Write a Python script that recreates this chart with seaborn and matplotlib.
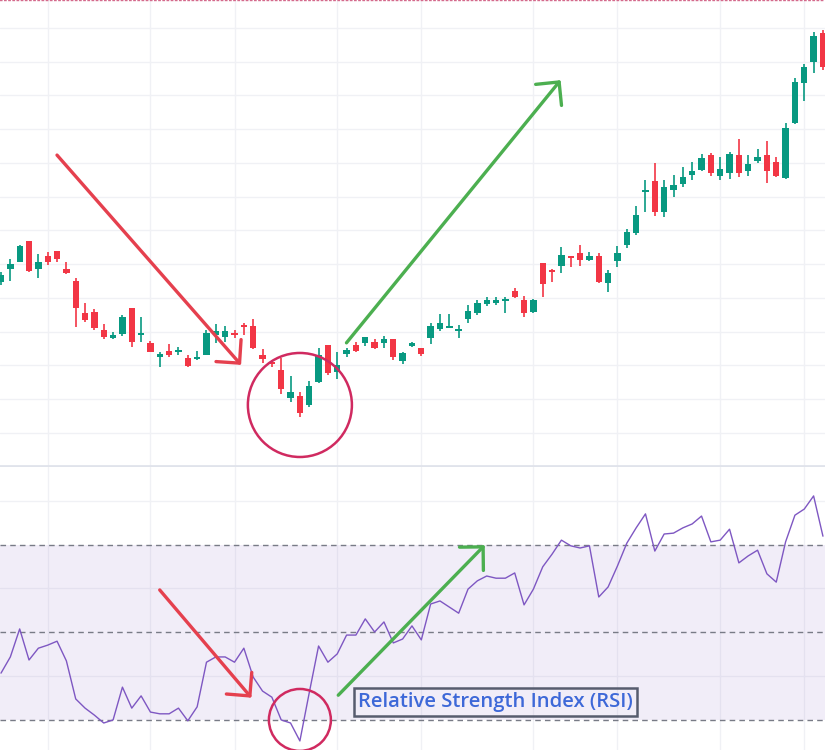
import numpy as np
import pandas as pd
import matplotlib
matplotlib.use('Agg')
import matplotlib.pyplot as plt
import seaborn as sns

sns.set_style('white')
plt.rcParams['font.family'] = ['Open Sans', 'DejaVu Sans']

# candle data (price units), one entry per session
opens = [188, 201, 208, 229, 201, 214, 219, 201, 189, 157,
         158, 140, 132, 136, 162, 135, 127, 113, 119, 118,
         112, 111, 115, 135, 133, 137, 145, 144, 115, 107,
         100, 72, 74, 65, 88, 125, 98, 116, 125, 127,
         128, 127, 131, 109, 124, 122, 132, 141, 142, 139,
         151, 157, 166, 167, 169, 179, 170, 158, 207, 200,
         204, 214, 217, 210, 214, 187, 209, 225, 237, 278,
         289, 258, 280, 286, 295, 300, 315, 294, 297, 315,
         299, 309, 315, 308, 292, 347, 387, 408, 437]
closes = [195, 206, 224, 199, 208, 208, 211, 197, 162, 150,
          142, 133, 135, 153, 128, 137, 118, 116, 115, 119,
          104, 113, 137, 139, 139, 135, 143, 122, 111, 106,
          81, 78, 57, 84, 115, 97, 105, 120, 119, 133,
          122, 131, 113, 117, 127, 116, 144, 147, 144, 140,
          159, 167, 170, 170, 170, 173, 157, 170, 186, 198,
          215, 212, 210, 214, 188, 197, 217, 238, 255, 280,
          258, 283, 285, 293, 299, 312, 297, 301, 316, 297,
          306, 313, 299, 294, 342, 388, 403, 434, 403]
highs = [198, 211, 225, 229, 216, 218, 219, 208, 192, 167,
         161, 146, 138, 155, 162, 153, 129, 118, 126, 123,
         115, 119, 140, 146, 144, 140, 147, 151, 121, 110,
         112, 94, 78, 89, 122, 125, 118, 122, 128, 133,
         131, 134, 131, 118, 128, 122, 147, 156, 156, 145,
         165, 170, 173, 173, 173, 182, 174, 171, 207, 201,
         223, 214, 225, 218, 217, 200, 224, 241, 264, 290,
         307, 290, 295, 303, 308, 316, 317, 313, 318, 331,
         315, 321, 329, 313, 347, 392, 406, 438, 440]
lows = [185, 189, 208, 198, 192, 205, 208, 196, 143, 148,
        140, 131, 131, 134, 123, 128, 118, 103, 113, 115,
        103, 110, 115, 127, 128, 132, 135, 121, 107, 103,
        76, 68, 53, 63, 87, 95, 91, 113, 118, 124,
        121, 122, 110, 106, 123, 114, 126, 139, 142, 132,
        147, 155, 164, 165, 157, 172, 153, 157, 173, 188,
        197, 203, 204, 209, 187, 178, 203, 222, 235, 258,
        254, 253, 273, 283, 290, 299, 294, 290, 291, 293,
        294, 307, 287, 293, 291, 346, 369, 397, 400]

rsi = [40.6, 44.3, 50.7, 43.6, 46.3, 47.0, 47.9, 43.4, 34.7, 32.6,
       31.0, 29.2, 29.9, 37.4, 32.6, 35.4, 31.7, 31.3, 31.3, 32.6,
       29.7, 32.9, 43.1, 44.3, 44.3, 43.1, 46.3, 39.7, 36.5, 35.1,
       29.9, 29.2, 25.1, 36.1, 46.8, 43.1, 45.0, 49.3, 49.3, 53.0,
       50.0, 52.3, 47.5, 48.4, 51.4, 48.2, 56.4, 57.1, 55.7, 54.3,
       59.8, 61.7, 62.8, 62.3, 62.3, 63.5, 56.2, 59.8, 64.9, 67.8,
       71.0, 69.7, 69.2, 69.7, 58.0, 60.3, 65.1, 70.3, 73.8, 77.0,
       68.5, 72.4, 72.6, 73.8, 74.7, 76.5, 70.6, 71.0, 73.5, 65.8,
       67.4, 68.7, 63.3, 61.4, 70.6, 76.7, 78.1, 81.1, 71.9]

# sessions where the vertical grid lines fall
grid_sessions = [5, 16, 25, 36, 45, 57, 66, 77, 86]

df = pd.DataFrame({'open': opens, 'high': highs, 'low': lows, 'close': closes, 'rsi': rsi})
df['idx'] = np.arange(len(df))

UP = '#089981'
DOWN = '#F23645'
GRID = '#F0F1F5'

fig = plt.figure(figsize=(8.25, 7.5), dpi=100)
ax = fig.add_axes([0, 0.3787, 1, 0.6213])
ax2 = fig.add_axes([0, 0, 1, 0.3773])

# ---- price panel
cols = np.where(df['close'] >= df['open'], UP, DOWN)
ax.vlines(df['idx'], df['low'], df['high'], colors=cols, lw=1.2, zorder=3)
body_lo = np.minimum(df['open'], df['close'])
body_h = np.maximum(np.abs(df['close'] - df['open']), 1.6)
ax.bar(df['idx'], body_h, bottom=body_lo, width=0.68, color=cols, lw=0, zorder=4)

ax.set_xlim(-0.107, 88.22)
ax.set_ylim(4, 470)
ax.set_xticks(grid_sessions)
ax.set_yticks(np.arange(37, 470, 33.75))
ax.grid(color=GRID, lw=1)
ax.tick_params(length=0, labelbottom=False, labelleft=False)
for s in ['left', 'right']:
    ax.spines[s].set_visible(False)
ax.spines['top'].set_visible(True)
ax.spines['top'].set_color('#d46a8c')
ax.spines['top'].set_linestyle((0, (1, 2)))
ax.spines['top'].set_linewidth(1)
ax.spines['bottom'].set_color('#E0E3EB')
ax.spines['bottom'].set_linewidth(2)

head = '->,head_length=0.6,head_width=0.6'
ax.annotate('', xy=(25.9, 103), xytext=(5.8, 317),
            arrowprops=dict(arrowstyle=head, color='#E5404E', lw=2.4, mutation_scale=20), zorder=6)
ax.annotate('', xy=(60.1, 392), xytext=(36.8, 125),
            arrowprops=dict(arrowstyle=head, color='#4CAF50', lw=2.4, mutation_scale=20), zorder=6)
ax.scatter([32.0], [65], s=5610, facecolors='none', edgecolors='#D02A60', linewidths=1.8, zorder=5)

# ---- RSI panel
ax2.axhspan(30, 70, color='#7E57C2', alpha=0.1, lw=0)
for lvl in [30, 50, 70]:
    ax2.axhline(lvl, color='#787B86', ls=(0, (4, 3)), lw=1)
sns.lineplot(data=df, x='idx', y='rsi', ax=ax2, color='#7E57C2', lw=1.0, zorder=4)

ax2.set_xlim(-0.107, 88.22)
ax2.set_ylim(23.03, 87.71)
ax2.set_xticks(grid_sessions)
ax2.set_yticks([40, 60, 80])
ax2.grid(color=GRID, lw=1)
ax2.tick_params(length=0, labelbottom=False, labelleft=False)
ax2.set_xlabel('')
ax2.set_ylabel('')
for s in ax2.spines.values():
    s.set_visible(False)

ax2.annotate('', xy=(27.0, 34.5), xytext=(16.8, 60.1),
             arrowprops=dict(arrowstyle=head, color='#E5404E', lw=2.4, mutation_scale=20), zorder=6)
ax2.annotate('', xy=(52.0, 70.3), xytext=(35.9, 35.1),
             arrowprops=dict(arrowstyle=head, color='#4CAF50', lw=2.4, mutation_scale=20), zorder=6)
ax2.scatter([32.0], [29.9], s=1990, facecolors='none', edgecolors='#D02A60', linewidths=1.8, zorder=5,
            clip_on=False)
ax2.text(38.2, 34.0, 'Relative Strength Index (RSI)', color='#3D68D8', fontsize=14.6,
         fontweight='semibold', ha='left', va='center', zorder=7,
         bbox=dict(boxstyle='square,pad=0.2', fc='none', ec='#575C6E', lw=1.8))

fig.savefig('out.png', dpi=100)
